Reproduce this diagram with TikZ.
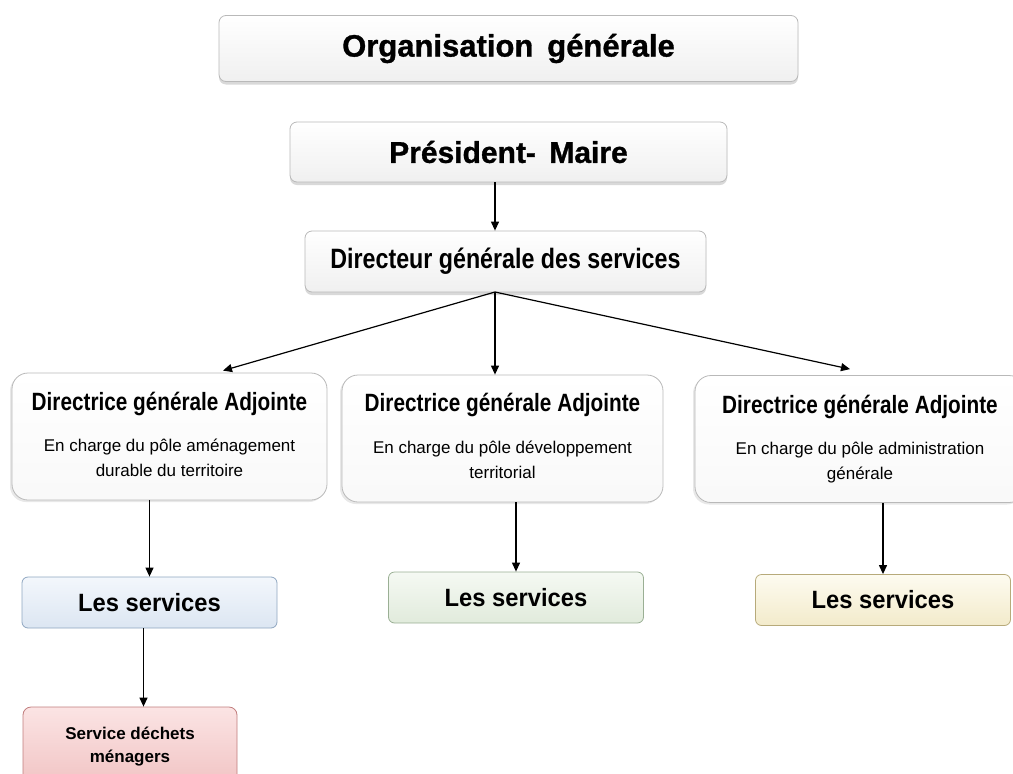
\documentclass[tikz,border=0pt]{standalone}
\usepackage{fontspec}
\setmainfont{Liberation Sans}
\newfontfamily\heavyfont{Liberation Sans}[BoldFeatures={FakeBold=1.0}]
\newfontfamily\narrowfont{Liberation Sans}[FakeStretch=0.83]
\newfontfamily\semifont{Liberation Sans}[FakeStretch=0.95]
\usetikzlibrary{arrows.meta, shadows}

\definecolor{blueline}{HTML}{8FA6C0}
\definecolor{bluetop}{HTML}{F3F7FC}
\definecolor{bluebot}{HTML}{DCE6F2}
\definecolor{greenline}{HTML}{9AAF94}
\definecolor{greentop}{HTML}{F5F9F3}
\definecolor{greenbot}{HTML}{E1EBDC}
\definecolor{yellowline}{HTML}{B7AA7A}
\definecolor{yellowtop}{HTML}{FDFBF0}
\definecolor{yellowbot}{HTML}{F3EBCB}
\definecolor{redline}{HTML}{C07C7C}
\definecolor{redtop}{HTML}{FBE4E4}
\definecolor{redbot}{HTML}{F1C3C3}

\begin{document}
\begin{tikzpicture}[
  x=1pt, y=-1pt,
  box/.style = {draw=gray!55, line width=0.8pt, rounded corners=7pt, inner sep=0pt, align=center},
  headbox/.style = {box, top color=white, bottom color=gray!12,
    drop shadow={opacity=0.3, shadow xshift=0pt, shadow yshift=-3pt}},
  dgabox/.style = {box, rounded corners=16pt, minimum height=127pt, top color=white, bottom color=gray!5,
    drop shadow={opacity=0.18, shadow xshift=-2pt, shadow yshift=-2pt}},
  srvbox/.style = {box, rounded corners=6pt, minimum width=255pt, minimum height=51pt,
    font=\semifont\bfseries\fontsize{25}{30}\selectfont},
  dgatitle/.style = {inner sep=0pt, anchor=base, font=\narrowfont\bfseries\fontsize{25}{30}\selectfont},
  dgasub/.style = {inner sep=0pt, anchor=north, align=center, font=\fontsize{17}{25}\selectfont},
  arrow/.style = {line width=1.2pt, -{Triangle[width=8pt,length=9pt]}}
]
  \useasboundingbox (0,0) rectangle (1013,774);

  % Title
  \node[headbox, minimum width=579pt, minimum height=66pt,
    font=\heavyfont\bfseries\fontsize{31}{36}\selectfont] (title) at (508.5,48.5)
    {Organisation\hspace{0.45em}générale};

  % Mayor
  \node[headbox, minimum width=437pt, minimum height=60pt,
    font=\heavyfont\bfseries\fontsize{30}{36}\selectfont] (maire) at (508.5,152)
    {Président-\hspace{0.45em}Maire};

  % General director
  \node[headbox, minimum width=401pt, minimum height=61pt,
    font=\narrowfont\bfseries\fontsize{28}{34}\selectfont] (dgs) at (505.5,261.5)
    {Directeur générale des services};

  % Deputy directors
  \node[dgabox, minimum width=315pt] (dga1) at (169.5,436.5) {};
  \node[dgabox, minimum width=321pt] (dga2) at (502.5,438.5) {};
  \node[dgabox, minimum width=330pt] (dga3) at (860,439) {};

  \node[dgatitle] (dga1t) at ([yshift=-38pt]dga1.north) {Directrice générale Adjointe};
  \node[dgatitle] (dga2t) at ([yshift=-37pt]dga2.north) {Directrice générale Adjointe};
  \node[dgatitle] (dga3t) at ([yshift=-38pt]dga3.north) {Directrice générale Adjointe};

  \node[dgasub] (dga1s) at ([yshift=-66pt]dga1.north) {En charge du pôle aménagement\\durable du territoire};
  \node[dgasub] (dga2s) at ([yshift=-66pt]dga2.north) {En charge du pôle développement\\territorial};
  \node[dgasub] (dga3s) at ([yshift=-67pt]dga3.north) {En charge du pôle administration\\générale};

  % Services
  \node[srvbox, draw=blueline, top color=bluetop, bottom color=bluebot] (srv1) at (149.5,602.5) {Les services};
  \node[srvbox, draw=greenline, top color=greentop, bottom color=greenbot] (srv2) at (516,597.5) {Les services};
  \node[srvbox, draw=yellowline, top color=yellowtop, bottom color=yellowbot] (srv3) at (883,600) {Les services};

  % Household waste
  \node[box, draw=redline, rounded corners=8pt, minimum width=214pt, minimum height=80pt,
    top color=redtop, bottom color=redbot, font=\bfseries\fontsize{17}{23}\selectfont] (waste) at (130,747)
    {Service déchets\\ménagers};

  % Links
  \coordinate (hub) at (495,292);
  \draw[arrow] (maire.south -| hub) -- (dgs.north -| hub);
  \draw[arrow] (hub) -- ([xshift=53.5pt, yshift=2pt]dga1.north);
  \draw[arrow] (hub) -- (dga2.north -| hub);
  \draw[arrow] (hub) -- ([xshift=-10pt, yshift=6pt]dga3.north);

  \draw[arrow] (dga1.south -| srv1.north) -- (srv1.north);
  \draw[arrow] (dga2.south -| srv2.north) -- (srv2.north);
  \draw[arrow] (dga3.south -| srv3.north) -- (srv3.north);

  \draw[arrow] ([xshift=-6pt]srv1.south) -- ([xshift=-6pt]srv1.south |- waste.north);

\end{tikzpicture}
\end{document}
